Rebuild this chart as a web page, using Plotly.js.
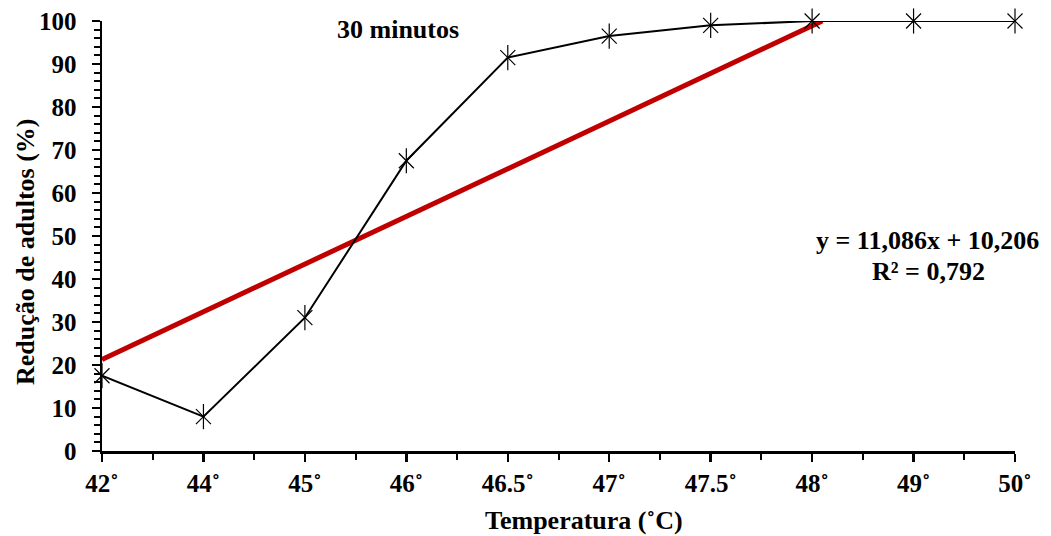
<!DOCTYPE html>
<html><head><meta charset="utf-8">
<script src="https://cdn.plot.ly/plotly-3.0.1.min.js"></script>
<style>html,body{margin:0;padding:0;background:#fff}</style>
</head><body><div id="chart" style="width:1051px;height:536px"></div>
<script>
var categories = ["42˚","44˚","45˚","46˚","46.5˚","47˚","47.5˚","48˚","49˚","50˚"];
var reduction = [17.5, 8, 31, 67.5, 91.5, 96.5, 99, 100, 100, 100];
var trendSlope = 11.086;
var trendIntercept = 10.206;
var equationText = "y = 11,086x + 10,206";
var r2Text = "R² = 0,792";
var chartLabel = "30 minutos";

var idx = categories.map(function(_, i){ return i + 1; });
var xEnd = Math.min(idx.length, (100 - trendIntercept) / trendSlope);
var trendX = [1, xEnd];
var trendY = trendX.map(function(x){ return trendSlope * x + trendIntercept; });

var F = "Liberation Serif";
var traces = [
  {x: trendX, y: trendY, mode: 'lines', line: {color: '#C00000', width: 5}, cliponaxis: false, hoverinfo: 'skip'},
  {x: idx, y: reduction, mode: 'lines+markers', line: {color: '#000', width: 2},
   marker: {symbol: 'x-thin-open', size: 15, color: '#000', line: {color: '#000', width: 1.2}}, cliponaxis: false},
  {x: idx, y: reduction, mode: 'markers',
   marker: {symbol: 'line-ns-open', size: 18, color: '#000', line: {color: '#000', width: 1.2}}, cliponaxis: false}
];
var layout = {
  width: 1051, height: 536, showlegend: false,
  paper_bgcolor: '#fff', plot_bgcolor: '#fff',
  margin: {l: 102, r: 36, t: 21, b: 85},
  font: {family: F, color: '#000', size: 25, weight: 'bold'},
  xaxis: {range: [1, 10], tickvals: idx, ticktext: categories, showgrid: false, zeroline: false,
    showline: true, linecolor: '#000', linewidth: 2.5, ticks: 'outside', ticklen: 8, tickwidth: 2.5, tickcolor: '#000',
    tickfont: {family: F, size: 25, color: '#000', weight: 'bold'}, ticklabelstandoff: 0,
    minor: {dtick: 0.5, tick0: 1, ticks: 'outside', ticklen: 6, tickwidth: 2, tickcolor: '#000', showgrid: false}},
  yaxis: {range: [0, 100], dtick: 10, showgrid: false, zeroline: false,
    showline: true, linecolor: '#000', linewidth: 2.5, ticks: 'outside', ticklen: 8, tickwidth: 2.5, tickcolor: '#000',
    tickfont: {family: F, size: 25, color: '#000', weight: 'bold'}, ticklabelstandoff: 10,
    minor: {dtick: 2, ticks: 'outside', ticklen: 6, tickwidth: 2, tickcolor: '#000', showgrid: false}},
  annotations: [
    {xref: 'paper', yref: 'paper', x: (584-102)/913, y: (451-520)/430, text: 'Temperatura (˚C)', showarrow: false, xanchor: 'center', yanchor: 'middle', font: {family: F, size: 26, weight: 'bold'}},
    {xref: 'paper', yref: 'paper', x: (25-102)/913, y: (451-252)/430, text: 'Redução de adultos (%)', textangle: -90, showarrow: false, xanchor: 'center', yanchor: 'middle', font: {family: F, size: 26, weight: 'bold'}},
    {xref: 'paper', yref: 'paper', x: (398-102)/913, y: (451-30)/430, text: chartLabel, showarrow: false, xanchor: 'center', yanchor: 'middle', font: {family: F, size: 26, weight: 'bold'}},
    {xref: 'paper', yref: 'paper', x: (927-102)/913, y: (451-240)/430, text: equationText, showarrow: false, xanchor: 'center', yanchor: 'middle', font: {family: F, size: 26, weight: 'bold'}},
    {xref: 'paper', yref: 'paper', x: (928-102)/913, y: (451-271)/430, text: r2Text, showarrow: false, xanchor: 'center', yanchor: 'middle', font: {family: F, size: 26, weight: 'bold'}}
  ]
};
Plotly.newPlot('chart', traces, layout, {displayModeBar: false, staticPlot: true});
</script></body></html>
